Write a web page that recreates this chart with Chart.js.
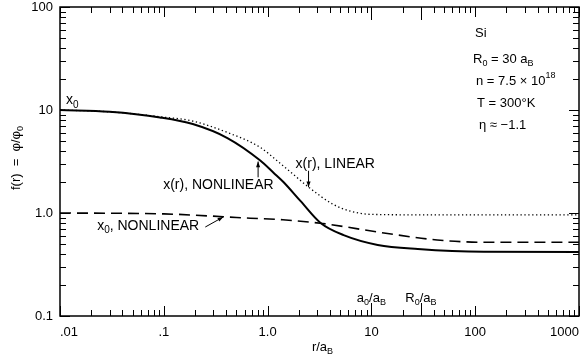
<!DOCTYPE html>
<html><head><meta charset="utf-8">
<script src="https://cdn.jsdelivr.net/npm/chart.js@4/dist/chart.umd.min.js"></script>
<style>html,body{margin:0;padding:0;background:#fff}canvas{display:block}</style>
</head><body>
<canvas id="c" width="583" height="362" style="width:583px;height:362px"></canvas>
<script>
// ---- data ----
const rSolid = [0.01, 0.03, 0.092, 0.19, 0.41, 0.85, 1.14, 1.42, 2.07, 3.24, 5.4, 11.5, 28, 121, 1000];
const fSolid = [10, 9.6, 8.46, 7.3, 5.34, 3.23, 2.46, 2.0, 1.31, 0.80, 0.61, 0.49, 0.447, 0.42, 0.418];
const rDotted = [0.01, 0.03, 0.092, 0.19, 0.41, 0.85, 1.32, 1.78, 2.47, 4.3, 6.3, 9.9, 30, 1000];
const fDotted = [10, 9.6, 8.6, 7.8, 6.05, 4.33, 3.04, 2.36, 1.79, 1.21, 1.04, 0.97, 0.96, 0.96];
const rDashed = [0.01, 0.1, 0.375, 0.68, 1.4, 3.4, 13.2, 43, 121, 1000];
const fDashed = [1.0, 0.98, 0.92, 0.89, 0.86, 0.79, 0.64, 0.547, 0.52, 0.52];

const xTickVals = [0.01, 0.1, 1, 10, 100, 1000];
const xTickLabels = ['.01', '.1', '1.0', '10', '100', '1000'];
const yTickVals = [0.1, 1, 10, 100];
const yTickLabels = ['0.1', '1.0', '10', '100'];

const markR = [10, 30];                     // a0/aB and R0/aB markers on r axis
const markLabels = [[['a',0],['0',-1],['/a',0],['B',-1]], [['R',0],['0',-1],['/a',0],['B',-1]]];

const FONT = '"Liberation Sans", Arial, Helvetica, sans-serif';

const notes = [
  {parts:[['x',0],['0',-1]], r:0.0114, f:12.4},
  {parts:[['x(r), NONLINEAR',0]], r:0.0987, f:1.87},
  {parts:[['x(r), LINEAR',0]], r:1.86, f:2.97},
  {parts:[['x',0],['0',-1],[', NONLINEAR',0]], r:0.0228, f:0.748}
];
const arrows = [
  {r1:0.81, f1:2.22, r2:0.81, f2:3.16},
  {r1:2.48, f1:2.57, r2:2.48, f2:1.78},
  {r1:0.251, f1:0.731, r2:0.374, f2:0.915}
];
const infoLines = [
  [['Si',0]],
  [['R',0],['0',-1],[' = 30 a',0],['B',-1]],
  [['n = 7.5 × 10',0],['18',1]],
  [['T = 300°K',0]],
  [['η ≈ −1.1',0]]
];
const infoDx = [415, 413, 416, 417, 419];
const infoDy = [26, 52, 74, 96, 118];

const pts = (rs, fs) => rs.map((r, i) => ({x: r, y: fs[i]}));

function rich(ctx, parts, x, y, size, align){
  const font = m => `${m ? Math.round(size*0.72) : size}px ${FONT}`;
  let w = 0;
  for (const [t,m] of parts){ ctx.font = font(m); w += ctx.measureText(t).width; }
  let cx = align === 'center' ? x - w/2 : align === 'right' ? x - w : x;
  ctx.textBaseline = 'middle'; ctx.textAlign = 'left';
  for (const [t,m] of parts){
    ctx.font = font(m);
    const dy = m < 0 ? size*0.32 : m > 0 ? -size*0.42 : 0;
    ctx.fillText(t, cx, y + dy);
    cx += ctx.measureText(t).width;
  }
}

const decor = {
  id: 'decor',
  afterDraw(chart){
    const {ctx, chartArea: a, scales: {x, y}} = chart;
    ctx.save();
    ctx.strokeStyle = '#000'; ctx.fillStyle = '#000';
    ctx.lineWidth = 1.5;
    ctx.strokeRect(a.left, a.top, a.right - a.left, a.bottom - a.top);
    ctx.lineWidth = 1;
    ctx.beginPath();
    for (let d = -2; d <= 3; d++){
      for (let m = 1; m <= 9; m++){
        const v = m * Math.pow(10, d);
        if (v > 1000.0001) break;
        const px = Math.round(x.getPixelForValue(v)) + 0.5;
        let len = m === 1 ? 10 : 6;
        if (markR.some(r => Math.abs(r - v) < 1e-6)) len = 13;
        ctx.moveTo(px, a.bottom); ctx.lineTo(px, a.bottom - len);
        ctx.moveTo(px, a.top); ctx.lineTo(px, a.top + len);
      }
    }
    for (let d = -1; d <= 2; d++){
      for (let m = 1; m <= 9; m++){
        const v = m * Math.pow(10, d);
        if (v > 100.0001) break;
        const py = Math.round(y.getPixelForValue(v)) + 0.5;
        const len = m === 1 ? 10 : 6;
        ctx.moveTo(a.left, py); ctx.lineTo(a.left + len, py);
        ctx.moveTo(a.right, py); ctx.lineTo(a.right - len, py);
      }
    }
    ctx.stroke();
    markR.forEach((r, i) => rich(ctx, markLabels[i], x.getPixelForValue(r), a.bottom - 18, 13, 'center'));
    notes.forEach(n => rich(ctx, n.parts, x.getPixelForValue(n.r), y.getPixelForValue(n.f), 14, 'left'));
    arrows.forEach(ar => {
      const x1 = x.getPixelForValue(ar.r1), y1 = y.getPixelForValue(ar.f1);
      const x2 = x.getPixelForValue(ar.r2), y2 = y.getPixelForValue(ar.f2);
      ctx.lineWidth = 1;
      ctx.beginPath(); ctx.moveTo(x1, y1); ctx.lineTo(x2, y2); ctx.stroke();
      const ang = Math.atan2(y2 - y1, x2 - x1), L = 6, W = 0.35;
      ctx.beginPath();
      ctx.moveTo(x2, y2);
      ctx.lineTo(x2 - L*Math.cos(ang - W), y2 - L*Math.sin(ang - W));
      ctx.lineTo(x2 - L*Math.cos(ang + W), y2 - L*Math.sin(ang + W));
      ctx.closePath(); ctx.fill();
    });
    infoLines.forEach((p, i) => rich(ctx, p, a.left + infoDx[i], a.top + infoDy[i], 13, 'left'));
    rich(ctx, [['r/a',0],['B',-1]], (a.left + a.right)/2 + 3, 347, 13, 'center');
    ctx.translate(16, 158); ctx.rotate(-Math.PI/2);
    rich(ctx, [['f(r)  =  φ/φ',0],['0',-1]], 0, 0, 13, 'center');
    ctx.restore();
  }
};

const fitY = s => { s.width = 60; s.paddingTop = 0; s.paddingBottom = 0; };
const fitX = s => { s.height = 46; s.paddingLeft = 0; s.paddingRight = 0; };

new Chart(document.getElementById('c'), {
  type: 'line',
  data: {
    datasets: [
      {data: pts(rSolid, fSolid), borderColor: '#000', borderWidth: 2, pointRadius: 0, cubicInterpolationMode: 'monotone', fill: false},
      {data: pts(rDotted, fDotted), borderColor: '#000', borderWidth: 1.3, borderDash: [1.3, 2.6], pointRadius: 0, cubicInterpolationMode: 'monotone', fill: false},
      {data: pts(rDashed, fDashed), borderColor: '#000', borderWidth: 1.6, borderDash: [11, 6], pointRadius: 0, cubicInterpolationMode: 'monotone', fill: false}
    ]
  },
  options: {
    responsive: false, animation: false, devicePixelRatio: 1,
    layout: {padding: {left: 0, right: 4, top: 7, bottom: 0}},
    plugins: {legend: {display: false}, tooltip: {enabled: false}},
    scales: {
      x: {
        type: 'logarithmic', min: 0.01, max: 1000,
        grid: {display: false, drawTicks: false}, border: {display: false},
        afterBuildTicks: s => { s.ticks = xTickVals.map(v => ({value: v})); },
        afterFit: fitX,
        ticks: {autoSkip: false, maxRotation: 0, padding: 9, align: 'inner', color: '#000',
          font: {family: FONT, size: 13},
          callback: (v, i) => xTickLabels[i]}
      },
      y: {
        type: 'logarithmic', min: 0.1, max: 100,
        grid: {display: false, drawTicks: false}, border: {display: false},
        afterBuildTicks: s => { s.ticks = yTickVals.map(v => ({value: v})); },
        afterFit: fitY,
        ticks: {autoSkip: false, padding: 7, color: '#000',
          font: {family: FONT, size: 13},
          callback: (v, i) => yTickLabels[i]}
      }
    }
  },
  plugins: [decor]
});
</script>
</body></html>
